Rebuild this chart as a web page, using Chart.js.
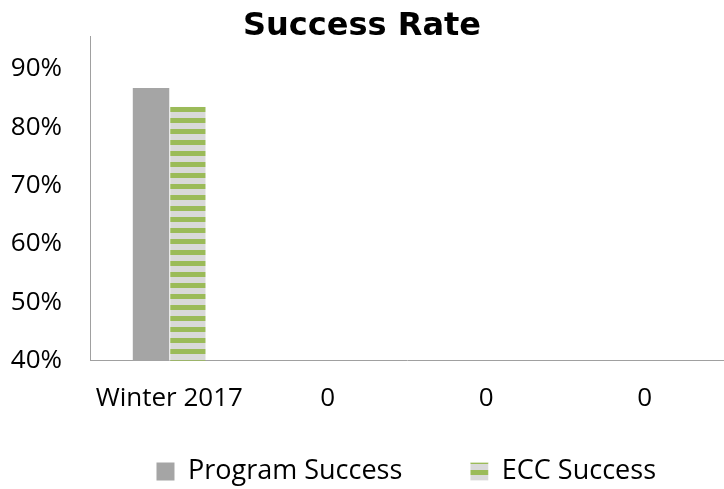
<!DOCTYPE html>
<html>
<head>
<meta charset="utf-8">
<script src="https://cdn.jsdelivr.net/npm/chart.js@4"></script>
<style>
  html, body { margin: 0; padding: 0; background: #fff; }
  #wrap { width: 724px; height: 489px; }
</style>
</head>
<body>
<div id="wrap"><canvas id="rateChart" width="724" height="489"></canvas></div>
<script>
// chart data
const terms = ['Winter 2017', '0', '0', '0'];
const programSuccess = [86.7, null, null, null];
const eccSuccess = [83.5, null, null, null];
const yTicks = [40, 50, 60, 70, 80, 90];

// horizontal green / grey stripes for the ECC bars (11px repeat)
function stripePattern() {
  const c = document.createElement('canvas');
  c.width = 8;
  c.height = 11;
  const g = c.getContext('2d');
  g.fillStyle = '#d9d9d9';
  g.fillRect(0, 0, 8, 11);
  g.fillStyle = '#9bbb59';
  g.fillRect(0, 8, 8, 3);
  g.fillRect(0, 0, 8, 2);
  return g.createPattern(c, 'repeat');
}

// the legend needs a wide gap between its two items, which also pads it
// vertically, so pull it back up a little after layout
const legendLift = {
  id: 'legendLift',
  afterLayout(chart) {
    chart.legend.top -= 46;
  }
};

const ctx = document.getElementById('rateChart').getContext('2d');
const rateChart = new Chart(ctx, {
  type: 'bar',
  data: {
    labels: terms,
    datasets: [{
      label: 'Program Success',
      data: programSuccess,
      backgroundColor: '#a5a5a5',
      borderWidth: 0
    }, {
      label: 'ECC Success',
      data: eccSuccess,
      backgroundColor: stripePattern(),
      borderColor: '#ffffff',
      borderWidth: { left: 1 },
      borderSkipped: false
    }]
  },
  plugins: [legendLift],
  options: {
    responsive: false,
    animation: false,
    layout: { padding: { left: 0, right: 0, top: 0, bottom: -52 } },
    datasets: {
      bar: { categoryPercentage: 0.46, barPercentage: 1.0 }
    },
    plugins: {
      title: {
        display: true,
        text: 'Success Rate',
        color: '#000',
        font: { family: 'DejaVu Sans', size: 32, weight: 'bold' },
        padding: { top: 7, bottom: -9.4 }
      },
      legend: {
        position: 'bottom',
        align: 'end',
        labels: {
          color: '#000',
          boxWidth: 18,
          boxHeight: 18,
          padding: 68,
          font: { family: 'Open Sans', size: 27 }
        }
      },
      tooltip: { enabled: false }
    },
    scales: {
      x: {
        grid: { display: false, drawTicks: false },
        border: { color: '#a0a0a0', width: 1 },
        ticks: {
          color: '#000',
          padding: 22,
          maxRotation: 0,
          autoSkip: false,
          font: { family: 'Open Sans', size: 26 }
        }
      },
      y: {
        min: 40,
        max: 95.6,
        afterFit: axis => {
          axis.width = 90;
          axis.paddingTop = 0;
        },
        afterBuildTicks: axis => {
          axis.ticks = yTicks.map(v => ({ value: v }));
        },
        grid: { display: false, drawTicks: false },
        border: { color: '#a0a0a0', width: 1 },
        ticks: {
          color: '#000',
          padding: 28,
          font: { family: 'Open Sans', size: 26 },
          callback: v => v + '%'
        }
      }
    }
  }
});
</script>
</body>
</html>
